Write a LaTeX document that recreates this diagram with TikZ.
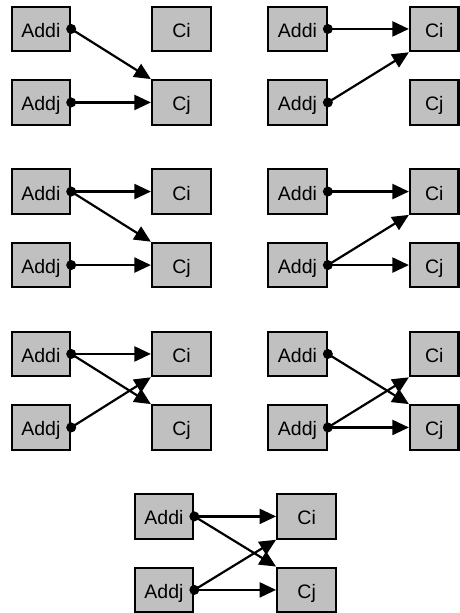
\documentclass[tikz,border=0pt]{standalone}
\usepackage{fontspec}
\setmainfont{Liberation Sans}
\usetikzlibrary{arrows.meta}
\definecolor{boxgray}{RGB}{192,192,192}
\tikzset{
  box/.style={draw=black, fill=boxgray, line width=2.2pt, inner sep=0pt,
    minimum height=44.5pt, font=\fontsize{19.5}{23}\selectfont,
    text height=17pt, text depth=0pt},
  lbox/.style={box, minimum width=58.5pt},
  rbox/.style={box, minimum width=59pt},
  nbox/.style={box, minimum width=48.5pt},
  conn/.style={line width=2.2pt, -{Triangle[length=16.5pt,width=15pt]}},
  dot/.style={fill=black}
}
\newcommand{\dotr}{5pt}
\begin{document}
\begin{tikzpicture}[x=1pt,y=-1pt]
\useasboundingbox (0,0) rectangle (459,613);
% Panel A (row 1, col 1)
\node[lbox] (aAi) at (40.85,28.95) {Addi};
\node[lbox] (aAj) at (40.85,102.45) {Addj};
\node[rbox] (aCi) at (181.5,28.95) {Ci};
\node[rbox] (aCj) at (181.5,102.45) {Cj};
\draw[conn] (aAi.east) -- (aCj.north west);
\draw[conn] (aAj.east) -- (aCj.west);
\fill[dot] (aAi.east) circle[radius=\dotr]; \fill[dot] (aAj.east) circle[radius=\dotr];
% Panel B (row 1, col 2)
\node[lbox] (bAi) at (297.5,28.95) {Addi};
\node[lbox] (bAj) at (297.5,102.45) {Addj};
\node[nbox] (bCi) at (434.25,28.95) {Ci};
\node[nbox] (bCj) at (434.25,102.45) {Cj};
\draw[conn] (bAi.east) -- (bCi.west);
\draw[conn] (bAj.east) -- (bCi.south west);
\fill[dot] (bAi.east) circle[radius=\dotr]; \fill[dot] (bAj.east) circle[radius=\dotr];
% Panel C (row 2, col 1)
\node[lbox] (cAi) at (40.85,191.55) {Addi};
\node[lbox] (cAj) at (40.85,265.05) {Addj};
\node[rbox] (cCi) at (181.5,191.55) {Ci};
\node[rbox] (cCj) at (181.5,265.05) {Cj};
\draw[conn] (cAi.east) -- (cCi.west);
\draw[conn] (cAi.east) -- (cCj.north west);
\draw[conn] (cAj.east) -- (cCj.west);
\fill[dot] (cAi.east) circle[radius=\dotr]; \fill[dot] (cAj.east) circle[radius=\dotr];
% Panel D (row 2, col 2)
\node[lbox] (dAi) at (297.5,191.55) {Addi};
\node[lbox] (dAj) at (297.5,265.05) {Addj};
\node[nbox] (dCi) at (434.25,191.55) {Ci};
\node[nbox] (dCj) at (434.25,265.05) {Cj};
\draw[conn] (dAi.east) -- (dCi.west);
\draw[conn] (dAj.east) -- (dCi.south west);
\draw[conn] (dAj.east) -- (dCj.west);
\fill[dot] (dAi.east) circle[radius=\dotr]; \fill[dot] (dAj.east) circle[radius=\dotr];
% Panel E (row 3, col 1)
\node[lbox] (eAi) at (40.85,353.95) {Addi};
\node[lbox] (eAj) at (40.85,427.45) {Addj};
\node[rbox] (eCi) at (181.5,353.95) {Ci};
\node[rbox] (eCj) at (181.5,427.45) {Cj};
\draw[conn] (eAi.east) -- (eCi.west);
\draw[conn] (eAi.east) -- (eCj.north west);
\draw[conn] (eAj.east) -- (eCi.south west);
\fill[dot] (eAi.east) circle[radius=\dotr]; \fill[dot] (eAj.east) circle[radius=\dotr];
% Panel F (row 3, col 2)
\node[lbox] (fAi) at (297.5,353.95) {Addi};
\node[lbox] (fAj) at (297.5,427.45) {Addj};
\node[nbox] (fCi) at (434.25,353.95) {Ci};
\node[nbox] (fCj) at (434.25,427.45) {Cj};
\draw[conn] (fAi.east) -- (fCj.north west);
\draw[conn] (fAj.east) -- (fCi.south west);
\draw[conn] (fAj.east) -- (fCj.west);
\fill[dot] (fAi.east) circle[radius=\dotr]; \fill[dot] (fAj.east) circle[radius=\dotr];
% Panel G (row 4, centered)
\node[lbox] (gAi) at (164,516.4) {Addi};
\node[lbox] (gAj) at (164,589.9) {Addj};
\node[rbox] (gCi) at (306.7,516.4) {Ci};
\node[rbox] (gCj) at (306.7,589.9) {Cj};
\draw[conn] (gAi.east) -- (gCi.west);
\draw[conn] (gAi.east) -- (gCj.north west);
\draw[conn] (gAj.east) -- (gCi.south west);
\draw[conn] (gAj.east) -- (gCj.west);
\fill[dot] (gAi.east) circle[radius=\dotr]; \fill[dot] (gAj.east) circle[radius=\dotr];
\end{tikzpicture}
\end{document}
